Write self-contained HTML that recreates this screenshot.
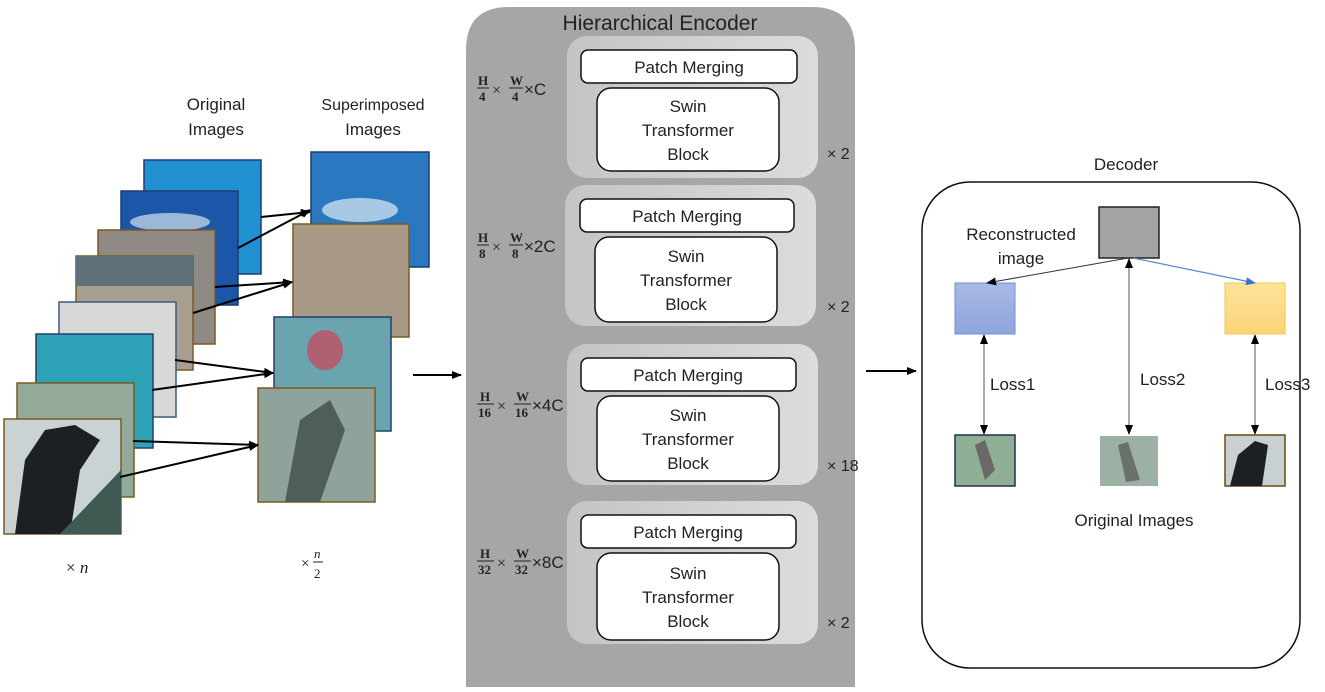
<!DOCTYPE html>
<html><head><meta charset="utf-8"><style>
body{margin:0;background:#fff;}
svg text{font-family:"Liberation Sans","Noto Sans CJK SC",sans-serif;fill:#222;}
.m{font-family:"Liberation Serif",serif;}
</style></head><body>
<svg width="1325" height="687" viewBox="0 0 1325 687" xmlns="http://www.w3.org/2000/svg">
<defs>
<marker id="ah" markerWidth="10" markerHeight="8" refX="9" refY="4" orient="auto" markerUnits="userSpaceOnUse"><path d="M0,0 L10,4 L0,8z" fill="#000"/></marker>
<marker id="ahs" markerWidth="10" markerHeight="8" refX="1" refY="4" orient="auto" markerUnits="userSpaceOnUse"><path d="M10,0 L0,4 L10,8z" fill="#000"/></marker>
<marker id="ahb" markerWidth="10" markerHeight="8" refX="9" refY="4" orient="auto" markerUnits="userSpaceOnUse"><path d="M0,0 L10,4 L0,8z" fill="#3b6fd0"/></marker>
<linearGradient id="st" x1="0" y1="0" x2="1" y2="0"><stop offset="0" stop-color="#c4c4c4"/><stop offset="1" stop-color="#dcdcdc"/></linearGradient>
<linearGradient id="bl" x1="0" y1="0" x2="0" y2="1"><stop offset="0" stop-color="#a9b9e4"/><stop offset="1" stop-color="#8ea6dc"/></linearGradient>
<linearGradient id="or" x1="0" y1="0" x2="0" y2="1"><stop offset="0" stop-color="#fde49a"/><stop offset="1" stop-color="#fcd27a"/></linearGradient>
</defs>

<!-- Left labels -->
<text x="216" y="110" font-size="17" text-anchor="middle">Original</text>
<text x="216" y="135" font-size="17" text-anchor="middle">Images</text>
<text x="373" y="110" font-size="16" text-anchor="middle">Superimposed</text>
<text x="373" y="135" font-size="17" text-anchor="middle">Images</text>

<!-- Original stack -->
<rect x="144" y="160" width="117" height="114" fill="#2190d0" stroke="#1d3d70" stroke-width="1.5"/>
<rect x="121" y="191" width="117" height="114" fill="#1c56a8" stroke="#1d3d70" stroke-width="1.5"/>
<ellipse cx="170" cy="222" rx="40" ry="9" fill="#9bb8d8"/>
<rect x="98" y="230" width="117" height="114" fill="#8f8a84" stroke="#7a5a20" stroke-width="1.5"/>
<rect x="76" y="256" width="117" height="114" fill="#a89e90" stroke="#7a5a20" stroke-width="1.5"/>
<rect x="76" y="256" width="117" height="30" fill="#607078"/>
<rect x="59" y="302" width="117" height="115" fill="#d8d8d8" stroke="#3b5a80" stroke-width="1.5"/>
<rect x="36" y="334" width="117" height="114" fill="#2ea3b8" stroke="#20406a" stroke-width="1.5"/>
<rect x="17" y="383" width="117" height="114" fill="#93aa9a" stroke="#7a5a20" stroke-width="1.5"/>
<rect x="4" y="419" width="117" height="115" fill="#c9d3d4" stroke="#7a5a20" stroke-width="1.5"/>
<path d="M15,534 L25,460 L45,430 L75,425 L100,440 L80,470 L70,534z" fill="#1c1f24"/>
<path d="M60,534 L121,470 L121,534z" fill="#3e5a52"/>

<!-- Superimposed -->
<rect x="311" y="152" width="118" height="115" fill="#2a78c0" stroke="#1d3d70" stroke-width="1.5"/>
<ellipse cx="360" cy="210" rx="38" ry="12" fill="#a9c8e4"/>
<rect x="293" y="224" width="116" height="113" fill="#a89a86" stroke="#7a5a20" stroke-width="1.5"/>
<rect x="274" y="317" width="117" height="114" fill="#6aa4ae" stroke="#20406a" stroke-width="1.5"/>
<ellipse cx="325" cy="350" rx="18" ry="20" fill="#b06070"/>
<rect x="258" y="388" width="117" height="114" fill="#8ea39a" stroke="#7a5a20" stroke-width="1.5"/>
<path d="M285,502 L300,420 L330,400 L345,430 L320,502z" fill="#4f5f58"/>

<!-- Image arrows -->
<g stroke="#000" stroke-width="2" marker-end="url(#ah)">
<line x1="261" y1="217" x2="310" y2="212"/>
<line x1="238" y1="248" x2="310" y2="210"/>
<line x1="215" y1="287" x2="292" y2="282"/>
<line x1="193" y1="313" x2="292" y2="282"/>
<line x1="175" y1="360" x2="273" y2="373"/>
<line x1="152" y1="390" x2="273" y2="373"/>
<line x1="133" y1="441" x2="258" y2="445"/>
<line x1="120" y1="477" x2="258" y2="445"/>
</g>
<text x="66" y="573" font-size="17" class="m">× <tspan font-style="italic">n</tspan></text>
<text x="301" y="568" font-size="15" class="m">×</text>
<text x="314" y="558" font-size="13" class="m" font-style="italic">n</text>
<line x1="313" y1="562" x2="323" y2="562" stroke="#222" stroke-width="1"/>
<text x="314" y="578" font-size="13" class="m">2</text>

<line x1="413" y1="375" x2="461" y2="375" stroke="#000" stroke-width="2" marker-end="url(#ah)"/>
<line x1="866" y1="371" x2="916" y2="371" stroke="#000" stroke-width="2" marker-end="url(#ah)"/>

<!-- Encoder -->
<path d="M466,687 L466,50 Q466,7 509,7 L812,7 Q855,7 855,50 L855,687z" fill="#a6a6a6"/>
<text x="660" y="30" font-size="21" text-anchor="middle">Hierarchical Encoder</text>

<g>
<rect x="567" y="36" width="251" height="142" rx="20" fill="url(#st)"/>
<rect x="581" y="50" width="216" height="33" rx="7" fill="#fff" stroke="#111" stroke-width="1.5"/>
<text x="689" y="73" font-size="17" text-anchor="middle">Patch Merging</text>
<rect x="597" y="88" width="182" height="83" rx="14" fill="#fff" stroke="#111" stroke-width="1.5"/>
<text x="688" y="112" font-size="17" text-anchor="middle">Swin</text>
<text x="688" y="136" font-size="17" text-anchor="middle">Transformer</text>
<text x="688" y="160" font-size="17" text-anchor="middle">Block</text>
</g>
<g>
<rect x="565" y="185" width="251" height="141" rx="20" fill="url(#st)"/>
<rect x="580" y="199" width="214" height="33" rx="7" fill="#fff" stroke="#111" stroke-width="1.5"/>
<text x="687" y="222" font-size="17" text-anchor="middle">Patch Merging</text>
<rect x="595" y="237" width="182" height="85" rx="14" fill="#fff" stroke="#111" stroke-width="1.5"/>
<text x="686" y="262" font-size="17" text-anchor="middle">Swin</text>
<text x="686" y="286" font-size="17" text-anchor="middle">Transformer</text>
<text x="686" y="310" font-size="17" text-anchor="middle">Block</text>
</g>
<g>
<rect x="567" y="344" width="251" height="141" rx="20" fill="url(#st)"/>
<rect x="581" y="358" width="215" height="33" rx="7" fill="#fff" stroke="#111" stroke-width="1.5"/>
<text x="688" y="381" font-size="17" text-anchor="middle">Patch Merging</text>
<rect x="597" y="396" width="182" height="85" rx="14" fill="#fff" stroke="#111" stroke-width="1.5"/>
<text x="688" y="421" font-size="17" text-anchor="middle">Swin</text>
<text x="688" y="445" font-size="17" text-anchor="middle">Transformer</text>
<text x="688" y="469" font-size="17" text-anchor="middle">Block</text>
</g>
<g>
<rect x="567" y="501" width="251" height="143" rx="20" fill="url(#st)"/>
<rect x="581" y="515" width="215" height="33" rx="7" fill="#fff" stroke="#111" stroke-width="1.5"/>
<text x="688" y="538" font-size="17" text-anchor="middle">Patch Merging</text>
<rect x="597" y="553" width="182" height="87" rx="14" fill="#fff" stroke="#111" stroke-width="1.5"/>
<text x="688" y="579" font-size="17" text-anchor="middle">Swin</text>
<text x="688" y="603" font-size="17" text-anchor="middle">Transformer</text>
<text x="688" y="627" font-size="17" text-anchor="middle">Block</text>
</g>
<text x="827" y="159" font-size="16">× 2</text>
<text x="827" y="312" font-size="16">× 2</text>
<text x="827" y="471" font-size="16">× 18</text>
<text x="827" y="628" font-size="16">× 2</text>

<!-- dimension labels -->
<g class="m" font-size="13">
<text x="478" y="85" font-weight="bold" class="m">H</text><line x1="477" y1="88" x2="489" y2="88" stroke="#222"/><text x="479" y="101" class="m" font-weight="bold">4</text>
<text x="492" y="95" font-size="16" class="m">×</text>
<text x="510" y="85" font-weight="bold" class="m">W</text><line x1="509" y1="88" x2="523" y2="88" stroke="#222"/><text x="512" y="101" class="m" font-weight="bold">4</text>
<text x="524" y="95" font-size="17">×C</text>

<text x="478" y="242" font-weight="bold" class="m">H</text><line x1="477" y1="245" x2="489" y2="245" stroke="#222"/><text x="479" y="258" class="m" font-weight="bold">8</text>
<text x="492" y="252" font-size="16" class="m">×</text>
<text x="510" y="242" font-weight="bold" class="m">W</text><line x1="509" y1="245" x2="523" y2="245" stroke="#222"/><text x="512" y="258" class="m" font-weight="bold">8</text>
<text x="524" y="252" font-size="17">×2C</text>

<text x="480" y="401" font-weight="bold" class="m">H</text><line x1="477" y1="404" x2="494" y2="404" stroke="#222"/><text x="478" y="417" class="m" font-weight="bold">16</text>
<text x="497" y="411" font-size="16" class="m">×</text>
<text x="516" y="401" font-weight="bold" class="m">W</text><line x1="514" y1="404" x2="531" y2="404" stroke="#222"/><text x="515" y="417" class="m" font-weight="bold">16</text>
<text x="532" y="411" font-size="17">×4C</text>

<text x="480" y="558" font-weight="bold" class="m">H</text><line x1="477" y1="561" x2="494" y2="561" stroke="#222"/><text x="478" y="574" class="m" font-weight="bold">32</text>
<text x="497" y="568" font-size="16" class="m">×</text>
<text x="516" y="558" font-weight="bold" class="m">W</text><line x1="514" y1="561" x2="531" y2="561" stroke="#222"/><text x="515" y="574" class="m" font-weight="bold">32</text>
<text x="532" y="568" font-size="17">×8C</text>
</g>

<!-- Decoder -->
<text x="1126" y="170" font-size="17" text-anchor="middle">Decoder</text>
<rect x="922" y="182" width="378" height="486" rx="48" fill="#fff" stroke="#111" stroke-width="1.5"/>
<rect x="1099" y="207" width="60" height="51" fill="#a3a3a3" stroke="#222" stroke-width="1.5"/>
<text x="1021" y="240" font-size="17" text-anchor="middle">Reconstructed</text>
<text x="1021" y="264" font-size="17" text-anchor="middle">image</text>
<rect x="955" y="283" width="60" height="51" fill="url(#bl)" stroke="#6f8fd8" stroke-width="1"/>
<rect x="1225" y="283" width="60" height="51" fill="url(#or)" stroke="#f6c64e" stroke-width="1"/>
<line x1="1128" y1="258" x2="987" y2="283" stroke="#333" stroke-width="1" marker-end="url(#ah)"/>
<line x1="1133" y1="258" x2="1255" y2="283" stroke="#5a86d6" stroke-width="1.2" marker-end="url(#ahb)"/>
<g stroke="#555" stroke-width="1" marker-end="url(#ah)" marker-start="url(#ahs)">
<line x1="984" y1="335" x2="984" y2="434"/>
<line x1="1129" y1="259" x2="1129" y2="434"/>
<line x1="1255" y1="335" x2="1255" y2="434"/>
</g>
<text x="990" y="390" font-size="17">Loss1</text>
<text x="1140" y="385" font-size="17">Loss2</text>
<text x="1265" y="390" font-size="17">Loss3</text>
<rect x="955" y="435" width="60" height="51" fill="#8fae96" stroke="#20304a" stroke-width="1.5"/>
<path d="M975,445 L985,440 L995,470 L985,480z" fill="#6a6868"/>
<rect x="1100" y="436" width="58" height="50" fill="#9cb0a4"/>
<path d="M1118,445 L1128,442 L1140,480 L1126,482z" fill="#6a706c"/>
<rect x="1225" y="435" width="60" height="51" fill="#c8d0d2" stroke="#6a4a10" stroke-width="1.5"/>
<path d="M1230,486 L1238,455 L1255,441 L1268,445 L1262,486z" fill="#1c1f24"/>
<text x="1134" y="526" font-size="17" text-anchor="middle">Original Images</text>
</svg>
</body></html>
